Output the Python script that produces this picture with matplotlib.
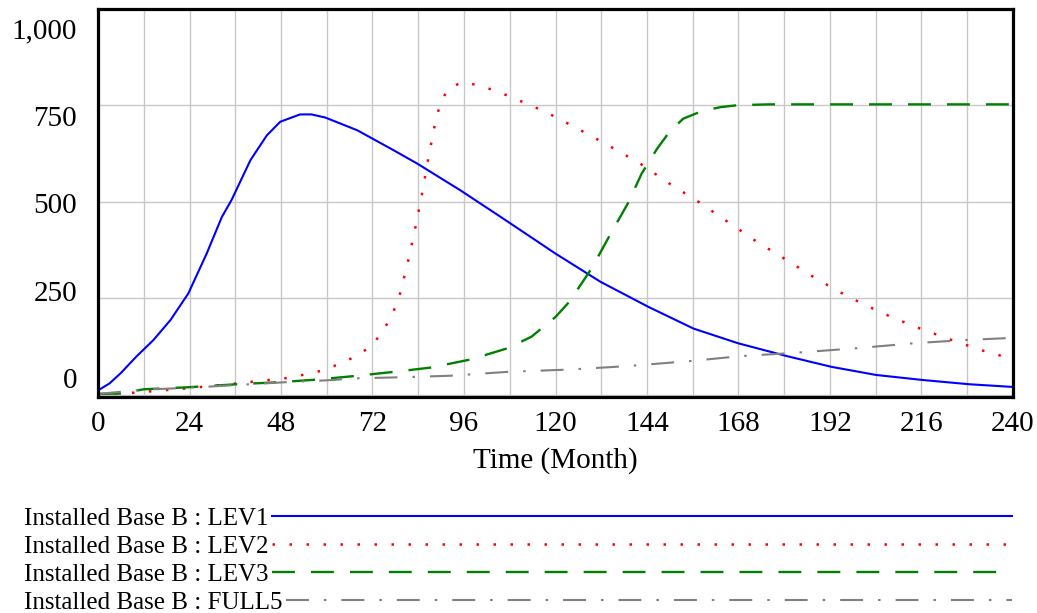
import matplotlib
matplotlib.use("Agg")
import matplotlib.pyplot as plt
from matplotlib.transforms import ScaledTranslation

plt.rcParams['font.family'] = ['Liberation Serif', 'DejaVu Serif']

# Installed Base B
lev1_t = [0, 3, 6, 10, 14.5, 19, 23.7, 28.5, 32.5, 35, 40, 44.3, 47.8, 53, 56, 59.6,
          68, 77.6, 83.7, 95, 105.6, 120, 131.8, 144.4, 156.2, 167.9, 180.6, 192.4,
          204.1, 216.3, 228.5, 240]
lev1 = [12, 30, 57, 99, 142, 194, 263, 366, 461, 504, 608, 672, 707, 726, 726, 718,
        685, 633, 599, 530, 461, 366, 293, 228, 172, 134, 101, 73, 52, 39, 28, 21]

lev2_t = [0, 9.3, 23, 36.3, 50.4, 59.6, 67.9, 71.9, 74.9, 77.1, 78.9, 81.2, 83.2, 85,
          86.7, 88.5, 89.6, 91.6, 95.5, 99.9, 104.3, 108.6, 117.3, 125.5, 134, 142.2,
          149.9, 157.5, 165.2, 172.9, 181, 188.7, 196.9, 205.5, 214, 222.6, 231.7, 240]
lev2 = [2, 6, 17, 30, 45, 65, 101, 129, 168, 207, 250, 340, 431, 521, 616, 707, 747,
        790, 810, 801, 787, 770, 733, 691, 645, 599, 547, 500, 448, 396, 347, 299, 254,
        213, 178, 147, 116, 93]

lev3_t = [0, 6, 12, 23.3, 36.4, 46.9, 57.4, 67, 77.6, 87.2, 97.7, 107.4, 113.7, 120,
          123.6, 129.5, 134.5, 139, 142.6, 146.7, 149.9, 153.5, 158.5, 163.4, 167.9,
          176.1, 240]
lev3 = [3, 4, 15, 20, 28, 33, 40, 49, 60, 71, 92, 121, 151, 202, 241, 328, 418, 496,
        573, 638, 681, 715, 735, 745, 750, 752, 752]

full5_t = [0, 12, 24, 31, 48.7, 61.8, 66.2, 79.3, 92.4, 107.4, 123.6, 139, 155.3,
           168.9, 182.4, 198.7, 214, 226.7, 240]
full5 = [3, 14, 19, 23, 33, 39, 43, 46, 50, 60, 66, 75, 88, 101, 109, 121, 134, 142, 148]

x_ticks = list(range(0, 241, 24))
x_grid = list(range(0, 241, 12))
y_ticks = [0, 250, 500, 750, 1000]
y_labels = ['0', '250', '500', '750', '1,000']
names = ['Installed Base B : LEV1', 'Installed Base B : LEV2',
         'Installed Base B : LEV3', 'Installed Base B : FULL5']

W, H = 1037, 613
fig = plt.figure(figsize=(W / 100, H / 100), dpi=100)
ax = fig.add_axes([98 / W, 1 - 397 / H, (1013 - 98) / W, (397 - 8.5) / H])

styles = [
    dict(color='#0000ff', lw=1.5, ls='-'),
    dict(color='#ff0000', lw=1.8, ls=(0, (1, 5.8))),
    dict(color='#008000', lw=1.7, ls=(0, (9.7, 6.8))),
    dict(color='#808080', lw=1.5, ls=(0, (11, 7.2, 1.2, 7.2))),
]
series = [(lev1_t, lev1), (lev2_t, lev2), (lev3_t, lev3), (full5_t, full5)]
for (t, v), st in zip(series, styles):
    ax.plot(t, v, **st)

ax.set_xlim(0, 240)
ax.set_ylim(-5, 1000)
ax.set_xticks(x_ticks)
ax.set_xticks(x_grid, minor=True)
ax.set_yticks(y_ticks, y_labels)
ax.tick_params(which='both', length=0, labelsize=21)
ax.tick_params(axis='y', pad=15)
ax.tick_params(axis='x', pad=10)
ax.grid(which='both', color='#c8c8c8', lw=1)
for s in ax.spines.values():
    s.set_linewidth(2.3)
    s.set_color('black')
ax.set_xlabel('Time (Month)', fontsize=21, labelpad=7)

# vensim spreads the y labels evenly between the frame edges
shift = [17, 7.8, -1.4, -10.6, -19.8]
for lab, dy in zip(ax.get_yticklabels(), shift):
    lab.set_transform(lab.get_transform() + ScaledTranslation(0, dy / 100, fig.dpi_scale_trans))

# legend below the plot
lax = fig.add_axes([0, 0, 1, 1])
lax.set_xlim(0, W)
lax.set_ylim(H, 0)
lax.axis('off')
lax.patch.set_visible(False)
rend = fig.canvas.get_renderer()
rows = [519, 547, 575, 603]
for name, y, st in zip(names, rows, styles):
    txt = lax.text(24, y, name, fontsize=18, va='center')
    bb = txt.get_window_extent(rend)
    lax.plot([bb.x1 + 3, 1012], [y - 3, y - 3], **st)

fig.savefig('out.png', dpi=100)
